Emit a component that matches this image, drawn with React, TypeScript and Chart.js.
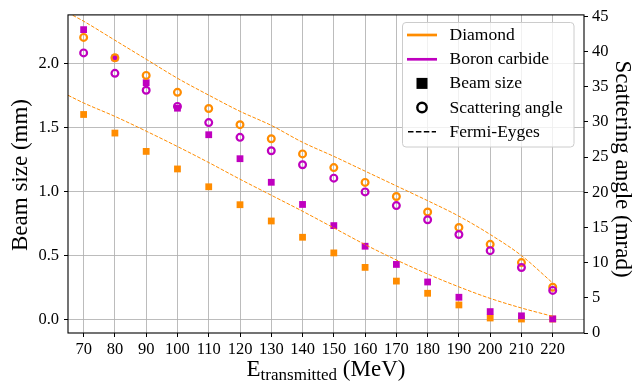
import React, { useEffect, useRef } from 'react';
import { Chart, registerables } from 'chart.js';

Chart.register(...registerables);

// ---------- data ----------
const energies = [70, 80, 90, 100, 110, 120, 130, 140, 150, 160, 170, 180, 190, 200, 210, 220];
const diamondBeam = [1.6, 1.455, 1.312, 1.175, 1.036, 0.896, 0.769, 0.642, 0.52, 0.407, 0.3, 0.205, 0.114, 0.012, 0.004, 0.004];
const boronBeam = [2.262, 2.042, 1.848, 1.649, 1.442, 1.255, 1.071, 0.898, 0.733, 0.572, 0.43, 0.293, 0.174, 0.062, 0.029, 0.005];
const diamondAngle = [42.0, 39.1, 36.6, 34.2, 31.9, 29.6, 27.6, 25.45, 23.5, 21.4, 19.4, 17.2, 15.0, 12.6, 10.0, 6.5];
const boronAngle = [39.8, 36.9, 34.5, 32.2, 29.9, 27.8, 25.9, 23.9, 22.0, 20.05, 18.1, 16.1, 14.0, 11.7, 9.3, 6.05];
const fermiEnergies = [65, 70, 80, 90, 100, 110, 120, 130, 140, 150, 160, 170, 180, 190, 200, 210, 220];
const fermiBeam = [1.75, 1.69, 1.585, 1.47, 1.35, 1.225, 1.095, 0.97, 0.845, 0.715, 0.585, 0.465, 0.355, 0.255, 0.165, 0.09, 0.025];
const fermiAngle = [45.5, 44.3, 41.6, 38.9, 36.2, 33.8, 31.5, 29.5, 27.1, 25.1, 23.0, 20.9, 18.8, 16.6, 14.0, 11.0, 7.1];

const xTicks = [70, 80, 90, 100, 110, 120, 130, 140, 150, 160, 170, 180, 190, 200, 210, 220];
const leftTicks = [0, 0.5, 1.0, 1.5, 2.0];
const rightTicks = [0, 5, 10, 15, 20, 25, 30, 35, 40, 45];

const legendLabels = ['Diamond', 'Boron carbide', 'Beam size', 'Scattering angle', 'Fermi-Eyges'];
const xTitleMain = 'E';
const xTitleSub = 'transmitted';
const xTitleUnit = ' (MeV)';
const leftTitle = 'Beam size (mm)';
const rightTitle = 'Scattering angle (mrad)';

// ---------- styles ----------
const ORANGE = '#ff8c00';
const MAGENTA = '#bf00bf';
const GRID = 'rgba(176,176,176,0.85)';
const FONT = '"Liberation Serif", "Times New Roman", serif';

const pts = (xs: number[], ys: number[]) => xs.map((x, i) => ({ x, y: ys[i] }));

const decorPlugin = {
  id: 'decor',
  afterDraw(chart: any) {
    const ctx = chart.ctx as CanvasRenderingContext2D;
    const a = chart.chartArea;
    ctx.save();
    // frame
    ctx.strokeStyle = '#000';
    ctx.lineWidth = 1.1;
    ctx.strokeRect(a.left, a.top, a.right - a.left, a.bottom - a.top);

    // legend
    const bx = 402.5, by = 22.5, bw = 171.5, bh = 124.5;
    ctx.beginPath();
    (ctx as any).roundRect(bx, by, bw, bh, 3.5);
    ctx.fillStyle = 'rgba(255,255,255,0.8)';
    ctx.fill();
    ctx.strokeStyle = '#cccccc';
    ctx.lineWidth = 1;
    ctx.stroke();

    const ys = [35, 59.3, 83.4, 107.5, 131.7];
    const hx0 = 407, hx1 = 437, hc = 422;
    ctx.lineWidth = 2.7;
    ctx.lineCap = 'butt';
    ctx.strokeStyle = ORANGE;
    ctx.beginPath(); ctx.moveTo(hx0, ys[0]); ctx.lineTo(hx1, ys[0]); ctx.stroke();
    ctx.strokeStyle = MAGENTA;
    ctx.beginPath(); ctx.moveTo(hx0, ys[1]); ctx.lineTo(hx1, ys[1]); ctx.stroke();
    ctx.fillStyle = '#000';
    ctx.fillRect(hc - 5.5, ys[2] - 5.5, 11, 11);
    ctx.lineWidth = 2.4;
    ctx.strokeStyle = '#000';
    ctx.beginPath(); ctx.arc(hc, ys[3], 4.7, 0, Math.PI * 2); ctx.stroke();
    ctx.lineWidth = 1.5;
    ctx.setLineDash([5.5, 2.4]);
    ctx.beginPath(); ctx.moveTo(hx0 + 1, ys[4]); ctx.lineTo(hx1 - 1, ys[4]); ctx.stroke();
    ctx.setLineDash([]);

    ctx.fillStyle = '#000';
    ctx.font = `17.5px ${FONT}`;
    ctx.textAlign = 'left';
    ctx.textBaseline = 'middle';
    legendLabels.forEach((t, i) => ctx.fillText(t, 449.5, ys[i] + 0.5));

    // left title
    ctx.font = `23px ${FONT}`;
    ctx.textAlign = 'center';
    ctx.textBaseline = 'middle';
    ctx.save();
    ctx.translate(21, 175);
    ctx.rotate(-Math.PI / 2);
    ctx.fillText(leftTitle, 0, 0);
    ctx.restore();
    // right title
    ctx.save();
    ctx.translate(622, 169);
    ctx.rotate(Math.PI / 2);
    ctx.fillText(rightTitle, 0, 0);
    ctx.restore();

    // x title with subscript
    ctx.textAlign = 'left';
    ctx.textBaseline = 'alphabetic';
    const mainFont = `23px ${FONT}`;
    const subFont = `17px ${FONT}`;
    ctx.font = mainFont;
    const wE = ctx.measureText(xTitleMain).width;
    const wU = ctx.measureText(xTitleUnit).width;
    ctx.font = subFont;
    const wS = ctx.measureText(xTitleSub).width;
    const total = wE + wS + wU;
    let x = (a.left + a.right) / 2 - total / 2;
    const base = 376;
    ctx.font = mainFont;
    ctx.fillText(xTitleMain, x, base);
    x += wE;
    ctx.font = subFont;
    ctx.fillText(xTitleSub, x, base + 4);
    x += wS;
    ctx.font = mainFont;
    ctx.fillText(xTitleUnit, x, base);
    ctx.restore();
  },
};

export default function App() {
  const ref = useRef<HTMLCanvasElement | null>(null);
  useEffect(() => {
    if (!ref.current) return;
    const tickFont = { family: FONT, size: 16.5 };
    const circle = (data: number[], color: string, order: number) => ({
      data: pts(energies, data),
      yAxisID: 'y2',
      showLine: false,
      pointStyle: 'circle',
      pointRadius: 3.4,
      pointBorderWidth: 2.2,
      pointBorderColor: color,
      pointBackgroundColor: 'rgba(0,0,0,0)',
      order,
    });
    const square = (data: number[], color: string, order: number) => ({
      data: pts(energies, data),
      yAxisID: 'y',
      showLine: false,
      pointStyle: 'rect',
      pointRadius: 4.8,
      pointBorderWidth: 0,
      pointBackgroundColor: color,
      order,
    });
    const fermi = (data: number[], axis: string) => ({
      data: pts(fermiEnergies, data),
      yAxisID: axis,
      borderColor: ORANGE,
      borderWidth: 1,
      borderDash: [3.7, 1.6],
      pointRadius: 0,
      fill: false,
      cubicInterpolationMode: 'monotone',
      order: 0,
    });
    const chart = new Chart(ref.current, {
      type: 'line',
      data: {
        datasets: [
          { label: 'Fermi-Eyges beam', ...fermi(fermiBeam, 'y') },
          { label: 'Fermi-Eyges angle', ...fermi(fermiAngle, 'y2') },
          { label: 'Boron carbide angle', ...circle(boronAngle, MAGENTA, 1) },
          { label: 'Diamond angle', ...circle(diamondAngle, ORANGE, 2) },
          { label: 'Boron carbide beam', ...square(boronBeam, MAGENTA, 3) },
          { label: 'Diamond beam', ...square(diamondBeam, ORANGE, 4) },
        ] as any,
      },
      options: {
        animation: false,
        responsive: false,
        events: [],
        layout: { padding: { top: 13.5, left: 0, right: 0, bottom: 0 } },
        plugins: { legend: { display: false }, tooltip: { enabled: false } },
        scales: {
          x: {
            type: 'linear',
            min: 65,
            max: 230,
            afterBuildTicks: (s: any) => { s.ticks = xTicks.map((v) => ({ value: v })); },
            afterFit: (s: any) => { s.height = 49; },
            ticks: { font: tickFont, color: '#000', padding: 3, maxRotation: 0, autoSkip: false, callback: (v: any) => String(v) },
            grid: { color: GRID, lineWidth: 1, tickColor: '#000', tickLength: 4, tickWidth: 1 },
            border: { display: false },
          },
          y: {
            type: 'linear',
            position: 'left',
            min: -0.105,
            max: 2.377,
            afterBuildTicks: (s: any) => { s.ticks = leftTicks.map((v) => ({ value: v })); },
            afterFit: (s: any) => { s.width = 68; },
            ticks: { font: tickFont, color: '#000', padding: 5, callback: (v: any) => Number(v).toFixed(1) },
            grid: { color: GRID, lineWidth: 1, tickColor: '#000', tickLength: 4, tickWidth: 1 },
            border: { display: false },
          },
          y2: {
            type: 'linear',
            position: 'right',
            min: 0,
            max: 45.2,
            afterBuildTicks: (s: any) => { s.ticks = rightTicks.map((v) => ({ value: v })); },
            afterFit: (s: any) => { s.width = 52; },
            ticks: { font: tickFont, color: '#000', padding: 4, callback: (v: any) => String(v) },
            grid: { drawOnChartArea: false, tickColor: '#000', tickLength: 4, tickWidth: 1 },
            border: { display: false },
          },
        },
      } as any,
      plugins: [decorPlugin],
    });
    return () => chart.destroy();
  }, []);
  return (
    <div style={{ position: 'absolute', left: 0, top: 0, width: 636, height: 382, background: '#fff' }}>
      <canvas ref={ref} width={636} height={382} style={{ display: 'block' }} />
    </div>
  );
}
